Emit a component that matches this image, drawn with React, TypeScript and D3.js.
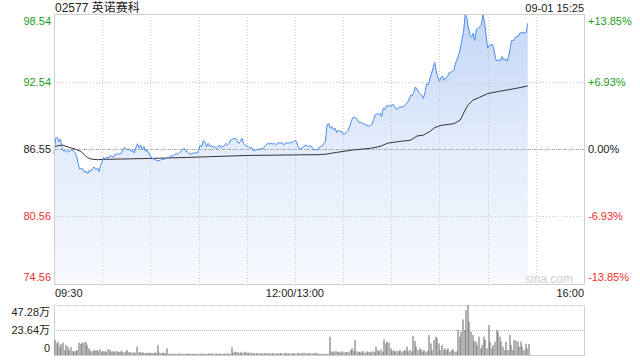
import React from 'react';
import * as d3 from 'd3';

// ---------- data ----------
const stockTitle = '02577 英诺赛科';
const stampText = '09-01 15:25';
const prevClose = 86.55;
const priceTicks = [98.54, 92.54, 86.55, 80.56, 74.56];
const pctTicks = ['+13.85%', '+6.93%', '0.00%', '-6.93%', '-13.85%'];
const timeTicks = ['09:30', '12:00/13:00', '16:00'];
const timeTickSlots = [0, 150, 330];
const volTickLabels = ['47.28万', '23.64万', '0'];
const volTickValues = [47.28, 23.64, 0];
const totalSlots = 330;

// minute-by-minute price (slot 0 = 09:30)
const prices = [
  86.10, 87.50, 87.56, 87.20, 87.44, 86.67, 86.37, 86.43, 86.25, 86.37,
  86.34, 86.49, 86.40, 86.22, 85.96, 85.28, 84.77, 84.80, 84.77, 84.45,
  84.60, 84.36, 84.66, 84.57, 84.83, 84.95, 84.71, 84.83, 84.54, 85.10,
  85.40, 85.81, 85.63, 85.84, 85.75, 85.96, 85.90, 85.81, 86.08, 86.08,
  86.14, 86.08, 86.17, 86.52, 86.70, 86.55, 86.49, 86.55, 86.34, 86.43,
  86.19, 86.67, 87.02, 86.64, 86.91, 86.46, 86.76, 86.34, 86.46, 86.19,
  85.93, 85.75, 85.60, 85.69, 85.48, 85.54, 85.51, 85.66, 85.63, 85.63,
  85.78, 85.81, 85.81, 85.99, 85.90, 86.05, 86.14, 86.11, 86.25, 86.31,
  86.46, 86.61, 86.37, 86.31, 86.17, 86.08, 86.17, 86.17, 86.22, 86.19,
  86.40, 86.91, 86.76, 87.29, 87.11, 86.76, 87.05, 86.76, 86.91, 86.70,
  86.76, 86.61, 86.70, 86.91, 86.70, 86.76, 86.82, 87.05, 86.91, 87.05,
  87.35, 87.41, 87.47, 87.50, 87.29, 87.05, 87.20, 87.50, 87.05, 86.91,
  86.82, 86.76, 86.61, 86.70, 86.46, 86.40, 86.52, 86.46, 86.52, 86.61,
  86.52, 86.76, 86.91, 87.05, 86.99, 87.05, 86.99, 87.05, 86.91, 87.05,
  87.11, 87.05, 87.11, 86.91, 87.05, 87.11, 87.05, 87.14, 87.11, 87.20,
  87.29, 87.20, 86.76, 86.52, 86.61, 86.70, 86.82, 86.91, 86.76, 86.82,
  86.82, 86.61, 86.46, 86.52, 86.46, 86.70, 86.76, 86.82, 87.05, 87.20,
  88.68, 88.83, 88.39, 88.53, 88.24, 88.39, 88.00, 88.24, 88.09, 88.15,
  87.85, 87.91, 88.00, 88.18, 88.50, 88.98, 89.33, 89.39, 89.30, 89.13,
  88.89, 88.89, 88.86, 88.74, 88.77, 88.59, 88.56, 88.65, 88.74, 89.18,
  89.57, 89.72, 89.57, 89.72, 89.42, 90.16, 90.04, 90.40, 90.34, 90.43,
  90.34, 90.52, 90.34, 90.10, 90.10, 90.28, 90.31, 90.25, 90.37, 90.52,
  90.66, 90.90, 91.32, 91.26, 91.58, 92.06, 91.88, 91.61, 91.46, 91.32,
  91.05, 91.58, 92.32, 92.26, 92.77, 93.21, 93.77, 94.25, 93.46, 92.92,
  92.57, 92.92, 93.01, 92.63, 92.84, 92.98, 93.31, 93.37, 93.43, 93.55,
  94.17, 94.49, 94.94, 95.44, 96.24, 96.92, 98.54, 98.25, 97.36, 96.65,
  96.48, 96.83, 96.18, 97.19, 97.25, 97.42, 97.54, 98.48, 97.90, 96.71,
  95.50, 95.74, 95.80, 95.83, 95.35, 94.55, 94.35, 94.52, 94.35, 94.76,
  94.46, 94.55, 94.35, 94.70, 95.50, 96.18, 96.18, 96.39, 96.54, 96.54,
  96.83, 96.89, 96.89, 96.86, 96.92, 97.72,
];

// average price line (slot, value)
const avgSlots = [0, 5, 10, 13, 17, 19, 21, 23, 27, 31, 42, 62, 83, 93, 122, 153,
  166, 170, 176, 186, 197, 203, 208, 214, 222, 226, 230, 234, 237, 241, 249, 253,
  256, 258, 261, 265, 270, 276, 282, 288, 295];
const avgPrices = [86.76, 86.91, 86.67, 86.55, 86.31, 86.02, 85.78, 85.66, 85.60, 85.63,
  85.66, 85.72, 85.80, 85.85, 85.98, 86.03, 86.05, 86.11, 86.25, 86.46, 86.61, 86.78,
  87.08, 87.20, 87.33, 87.70, 87.79, 88.10, 88.45, 88.65, 88.80, 89.13, 90.01, 90.50,
  90.90, 91.14, 91.47, 91.64, 91.79, 91.94, 92.15];

// volume per minute, in 万 shares
const volumes = [
  14.2, 11.0, 12.6, 7.9, 10.4, 11.7, 4.7, 9.5, 7.9, 4.7,
  7.3, 3.8, 3.2, 3.8, 4.7, 11.7, 10.4, 11.7, 11.7, 12.6,
  9.5, 6.3, 4.1, 3.5, 4.7, 4.1, 4.7, 3.8, 5.4, 3.2,
  3.8, 3.5, 3.2, 5.4, 4.7, 3.2, 3.5, 2.8, 3.8, 3.2,
  2.8, 3.5, 3.2, 2.5, 3.2, 4.7, 2.5, 2.8, 2.2, 2.5,
  2.2, 7.9, 2.2, 2.8, 2.2, 2.5, 1.9, 2.2, 1.9, 2.2,
  1.6, 1.9, 2.2, 2.2, 9.5, 2.2, 1.9, 2.2, 1.9, 1.6,
  6.3, 1.3, 1.0, 1.3, 0.9, 1.2, 1.0, 1.4, 1.1, 0.9,
  1.2, 1.0, 1.3, 1.1, 1.5, 1.0, 1.2, 0.9, 1.1, 1.3,
  1.0, 1.2, 1.4, 1.1, 1.0, 1.3, 1.2, 1.6, 1.1, 1.0,
  1.3, 1.2, 1.0, 1.4, 1.1, 1.3, 1.2, 1.0, 1.5, 1.2,
  7.3, 2.2, 3.2, 2.5, 2.8, 1.9, 2.5, 2.2, 3.2, 1.9,
  2.5, 1.6, 2.2, 1.9, 1.6, 1.3, 1.9, 1.6, 1.3, 1.6,
  1.3, 1.6, 1.9, 1.3, 1.6, 1.2, 1.9, 1.3, 1.6, 1.3,
  1.6, 1.9, 1.3, 1.6, 2.2, 1.3, 1.6, 1.3, 1.9, 1.6,
  1.3, 1.6, 1.9, 1.3, 1.6, 2.2, 1.3, 1.6, 1.9, 1.3,
  1.6, 1.3, 1.9, 1.6, 1.3, 1.0, 0.9, 1.0, 0.8, 1.2,
  1.0, 17.3, 3.2, 3.5, 2.5, 3.8, 2.8, 3.2, 2.2, 3.5,
  2.5, 2.8, 2.5, 3.2, 4.7, 6.3, 4.0, 14.2, 3.5, 2.8,
  3.2, 2.5, 3.8, 2.2, 3.5, 2.8, 3.2, 2.5, 3.5, 3.0,
  7.9, 4.7, 3.5, 5.5, 3.2, 14.8, 11.0, 12.6, 11.7, 6.3,
  3.8, 4.7, 3.2, 4.1, 3.5, 4.7, 3.2, 3.8, 4.7, 7.9,
  3.5, 4.7, 3.2, 18.0, 13.2, 7.9, 4.7, 6.3, 4.7, 3.2,
  4.7, 3.2, 4.1, 18.9, 11.0, 4.7, 14.2, 17.3, 15.8, 11.0,
  4.7, 9.5, 4.7, 6.3, 4.7, 6.3, 3.2, 4.7, 5.4, 3.2,
  3.5, 23.6, 17.3, 22.1, 33.7, 23.6, 42.6, 47.28, 31.5, 22.1,
  18.9, 13.2, 12.6, 9.5, 17.3, 6.3, 9.5, 17.3, 14.2, 6.3,
  28.4, 12.6, 6.3, 9.5, 12.6, 23.6, 22.1, 17.3, 12.6, 7.9,
  4.7, 12.6, 4.7, 18.9, 9.5, 4.7, 14.2, 13.6, 12.6, 7.9,
  12.6, 7.9, 4.7, 10.4, 6.3, 10.4,
];

// ---------- layout ----------
const W = 640, H = 360;
const L = 54, R = 584, T = 14, B = 284;
const VT = 305, VB = 355;
const GREEN = '#1a9e1a';
const RED = '#f03030';
const FONT = '"Liberation Sans", Arial, "Noto Sans CJK SC", sans-serif';

export default function App() {
  const x = d3.scaleLinear().domain([0, totalSlots]).range([L, R]);
  const y = d3.scaleLinear().domain([priceTicks[4], priceTicks[0]]).range([B, T]);
  const vy = d3.scaleLinear().domain([0, volTickValues[0]]).range([VB, VT]);

  const line = d3.line<number>().x((_, i) => x(i)).y((d) => y(d));
  const area = d3.area<number>().x((_, i) => x(i)).y0(B).y1((d) => y(d));
  const avgLine = d3.line<number>().x((_, i) => x(avgSlots[i])).y((d) => y(d));

  const vGrid = d3.range(1, 11).map((k) => Math.round(x(k * 30)) + 0.5);
  const colorFor = (v: number) => (v > prevClose + 1e-6 ? GREEN : v < prevClose - 1e-6 ? RED : '#222');
  const labelY = (i: number) => {
    const yy = y(priceTicks[i]);
    if (i === 0) return yy + 6.5;
    if (i === priceTicks.length - 1) return yy - 7;
    return yy;
  };
  const volLabelY = (i: number) => {
    const yy = vy(volTickValues[i]);
    if (i === 0) return yy + 7;
    if (i === volTickValues.length - 1) return yy - 7;
    return yy;
  };

  return (
    <svg width={W} height={H} style={{ position: 'absolute', left: 0, top: 0, background: '#fff' }}
      fontFamily={FONT}>
      <defs>
        <linearGradient id="areaGrad" gradientUnits="userSpaceOnUse" x1="0" y1={T} x2="0" y2={B}>
          <stop offset="0" stopColor="#c3d7f7" />
          <stop offset="0.5" stopColor="#e3ecfb" />
          <stop offset="1" stopColor="#f7f9fe" />
        </linearGradient>
      </defs>

      {/* header */}
      <text x={55} y={7.5} fontSize={12} fill="#222" dominantBaseline="central">{stockTitle}</text>
      <text x={584} y={7.5} fontSize={11} fill="#222" textAnchor="end" dominantBaseline="central">{stampText}</text>

      {/* area */}
      <path d={area(prices) || ''} fill="url(#areaGrad)" />

      {/* price grid (over the fill) */}
      {vGrid.map((gx, i) => (
        <line key={'vg' + i} x1={gx} x2={gx} y1={T} y2={B} stroke="#c8c8c8" strokeDasharray="1,2" />
      ))}
      {[1, 3].map((i) => (
        <line key={'hg' + i} x1={L} x2={R} y1={Math.round(y(priceTicks[i])) + 0.5} y2={Math.round(y(priceTicks[i])) + 0.5}
          stroke="#c8c8c8" strokeDasharray="1,2" />
      ))}
      <line x1={L} x2={R} y1={Math.round(y(prevClose)) + 0.5} y2={Math.round(y(prevClose)) + 0.5}
        stroke="#aaa" strokeDasharray="3,1,1,1" />

      {/* lines */}
      <path d={avgLine(avgPrices) || ''} fill="none" stroke="#333" strokeWidth={1} />
      <path d={line(prices) || ''} fill="none" stroke="#4a8af0" strokeWidth={1} />

      {/* border */}
      <rect x={L + 0.5} y={T + 0.5} width={R - L} height={B - T} fill="none" stroke="#cfcfcf" />

      <text x={573} y={283} fontSize={12} fill="#d0d0d0" textAnchor="end">sina.com</text>

      {/* price labels */}
      {priceTicks.map((v, i) => (
        <text key={'pl' + i} x={51} y={labelY(i)} fontSize={11} fill={colorFor(v)} textAnchor="end"
          dominantBaseline="central">{v.toFixed(2)}</text>
      ))}
      {pctTicks.map((t, i) => (
        <text key={'pr' + i} x={588} y={labelY(i)} fontSize={11} fill={colorFor(priceTicks[i])}
          dominantBaseline="central">{t}</text>
      ))}

      {/* time labels */}
      {timeTicks.map((t, i) => (
        <text key={'tl' + i} x={i === 0 ? L + 1 : i === 2 ? R : x(timeTickSlots[i])} y={293}
          fontSize={11} fill="#222" dominantBaseline="central"
          textAnchor={i === 0 ? 'start' : i === 2 ? 'end' : 'middle'}>{t}</text>
      ))}

      {/* volume panel */}
      {[0, 1].map((i) => (
        <line key={'vgl' + i} x1={L} x2={R} y1={Math.round(vy(volTickValues[i])) + 0.5} y2={Math.round(vy(volTickValues[i])) + 0.5}
          stroke="#bbb" strokeDasharray="1,1" />
      ))}
      <line x1={L + 0.5} x2={L + 0.5} y1={VT} y2={VB + 1} stroke="#cfcfcf" />
      <line x1={R + 0.5} x2={R + 0.5} y1={VT} y2={VB + 1} stroke="#cfcfcf" />
      <line x1={L} x2={R + 1} y1={VB + 0.5} y2={VB + 0.5} stroke="#cfcfcf" />
      {volumes.map((v, i) => {
        const top = vy(v);
        return (
          <rect key={'vb' + i} x={Math.round(x(i)) + 0.5} y={top} width={1} height={VB - top} fill="#666" />
        );
      })}
      {volTickLabels.map((t, i) => (
        <text key={'vl' + i} x={50} y={volLabelY(i)} fontSize={11} fill="#222" textAnchor="end"
          dominantBaseline="central">{t}</text>
      ))}
    </svg>
  );
}
